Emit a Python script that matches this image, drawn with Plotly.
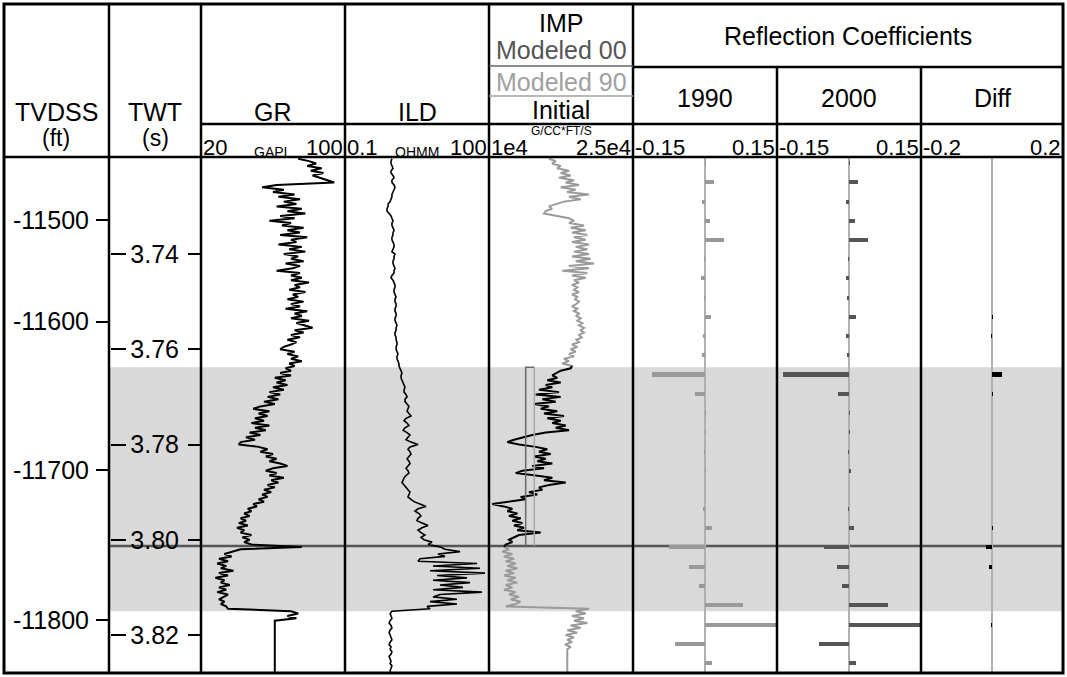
import plotly.graph_objects as go

W, H = 1067, 677

# ---------------- data ----------------
# two-way time sample grid (s), 0.5 ms sampling
twt = [round(3.7200 + 0.0005 * i, 4) for i in range(217)]

# GR (GAPI)
gr = [74, 80, 84, 79, 87, 81, 88, 82, 86, 90,
      94, 62, 54, 66, 60, 72, 63, 75, 66, 73,
      62, 76, 68, 78, 64, 72, 58, 70, 65, 77,
      68, 75, 64, 79, 70, 73, 63, 76, 69, 78,
      66, 74, 70, 77, 67, 75, 71, 62, 75, 70,
      76, 70, 80, 72, 75, 69, 78, 71, 74, 68,
      77, 70, 75, 67, 79, 72, 76, 70, 80, 73,
      78, 82, 72, 77, 70, 75, 68, 73, 70, 66,
      64, 72, 68, 74, 70, 76, 69, 72, 67, 70,
      64, 70, 61, 67, 62, 68, 60, 66, 58, 64,
      57, 63, 55, 61, 53, 49, 58, 52, 57, 50,
      55, 48, 58, 50, 56, 47, 53, 45, 50, 42,
      41, 52, 57, 53, 60, 56, 62, 58, 64, 68,
      60, 56, 62, 58, 66, 59, 63, 57, 61, 55,
      59, 54, 57, 52, 55, 49, 51, 46, 48, 44,
      47, 42, 45, 41, 46, 40, 44, 42, 48, 43,
      47, 44, 48, 76, 42, 38, 33, 37, 30, 35,
      29, 34, 31, 38, 30, 35, 28, 33, 31, 36,
      30, 34, 29, 35, 32, 30, 33, 31, 34, 35,
      70, 74, 68, 73, 61, 61, 61, 61, 61, 61,
      61, 61, 61, 61, 61, 61, 61, 61, 61, 61,
      61, 61, 61, 61, 61, 61, 61]

# ILD (OHMM)
ild = [0.95, 0.91, 0.91, 0.95, 1.00, 0.91, 0.91, 1.00, 1.05, 0.95,
       0.95, 1.05, 1.10, 1.05, 1.00, 0.95, 0.95, 0.91, 0.87, 0.79,
       0.79, 0.75, 0.75, 0.83, 0.91, 0.95, 1.00, 0.95, 0.95, 1.00,
       1.05, 1.00, 1.00, 0.95, 0.95, 1.00, 1.05, 1.05, 1.00, 0.95,
       1.10, 1.05, 1.05, 1.00, 1.00, 1.05, 1.10, 1.05, 1.05, 0.95,
       0.91, 1.00, 1.05, 1.10, 1.10, 1.05, 1.05, 1.10, 1.16, 1.10,
       1.10, 1.16, 1.16, 1.10, 1.10, 1.16, 1.16, 1.10, 1.10, 1.16,
       1.21, 1.16, 1.16, 1.10, 1.10, 1.16, 1.16, 1.21, 1.21, 1.16,
       1.16, 1.21, 1.27, 1.21, 1.21, 1.27, 1.33, 1.33, 1.40, 1.47,
       1.54, 1.47, 1.47, 1.54, 1.62, 1.70, 1.78, 1.70, 1.70, 1.87,
       1.96, 1.78, 1.78, 1.96, 2.15, 2.05, 1.96, 2.15, 2.37, 1.87,
       1.70, 1.96, 2.15, 1.78, 1.62, 1.96, 2.26, 2.05, 1.87, 2.37,
       3.32, 2.26, 2.05, 2.26, 2.37, 2.15, 1.96, 2.15, 2.26, 2.05,
       1.87, 2.05, 2.15, 1.87, 1.70, 1.62, 1.54, 1.70, 1.87, 2.05,
       2.26, 2.15, 2.05, 2.37, 2.74, 3.65, 4.87, 3.32, 2.87, 3.48,
       3.83, 3.32, 3.16, 4.02, 5.36, 4.02, 3.32, 3.83, 4.64, 3.83,
       4.42, 6.49, 5.36, 9.53, 12.1, 24.9, 8.66, 12.1, 3.65, 3.32,
       56.2, 6.81, 64.9, 5.90, 82.5, 8.25, 34.8, 6.81, 40.2, 9.53,
       28.7, 6.81, 71.5, 9.53, 6.81, 21.5, 5.90, 21.5, 5.11, 5.90,
       0.95, 0.87, 0.91, 0.95, 0.87, 0.83, 0.91, 0.95, 0.87, 0.83,
       0.87, 0.91, 0.95, 0.87, 0.83, 0.91, 0.87, 0.95, 0.91, 0.83,
       0.87, 0.91, 0.87, 0.95, 0.91, 0.87, 0.91]

# Impedance (G/CC*FT/S)
imp = [16250, 16948, 16563, 17469, 17083, 18334, 17469, 18511, 17292, 18854,
       17990, 19375, 17469, 19031, 18125, 20417, 18334, 19552, 17813, 16948,
       16250, 16563, 15906, 15729, 16948, 18334, 18854, 18334, 19896, 18511,
       20073, 18646, 20240, 18854, 20073, 18646, 20417, 19031, 20240, 18854,
       20417, 18646, 20594, 19031, 20938, 18334, 20417, 17636, 20240, 18646,
       20073, 18854, 19375, 18646, 19198, 18854, 19375, 18646, 19198, 18958,
       19375, 19094, 18646, 19198, 18854, 19375, 19094, 19552, 19198, 19719,
       19375, 19896, 19552, 19896, 19375, 19656, 19094, 19375, 18646, 19198,
       18511, 19031, 18334, 18854, 17813, 18334, 17636, 18646, 18511, 17469,
       16948, 16594, 17115, 16073, 17469, 15906, 16594, 15208, 17292, 14865,
       17469, 15552, 16948, 14688, 16250, 15386, 17115, 15729, 17813, 16073,
       17469, 16594, 17990, 16948, 18334, 15906, 14511, 13469, 12604, 11906,
       13125, 14865, 16073, 15208, 16427, 14688, 15906, 15031, 16594, 14511,
       15729, 13469, 12781, 14865, 16594, 15729, 17990, 16250, 15208, 15552,
       14167, 15031, 13302, 13823, 12083, 10344, 11563, 12427, 11906, 12948,
       12083, 13302, 12427, 13469, 12604, 13646, 12948, 15386, 13125, 12604,
       12083, 12427, 11740, 11563, 12083, 11386, 12427, 11563, 12604, 11740,
       12781, 11906, 12948, 11740, 12604, 11563, 12781, 11906, 12948, 11740,
       12427, 11563, 12781, 12083, 13125, 12260, 13302, 12781, 11740, 20417,
       19031, 20073, 18646, 19896, 18854, 20240, 18511, 19552, 18156, 19198,
       17990, 18854, 18156, 18646, 17917, 18511, 18156, 18156, 18156, 18156,
       18156, 18156, 18156, 18156, 18156, 18156, 18156]

# modeled (blocky) impedance within the target interval
model_twt = [3.7638, 3.8013]
model_00 = 13820
model_90 = 14720

# reflection coefficients (4 ms)
rc_twt = [3.7209, 3.7249, 3.7290, 3.7330, 3.7370, 3.7411, 3.7451, 3.7492, 3.7532,
          3.7572, 3.7613, 3.7653, 3.7694, 3.7734, 3.7774, 3.7815, 3.7855, 3.7895,
          3.7936, 3.7976, 3.8016, 3.8057, 3.8097, 3.8138, 3.8178, 3.8218, 3.8259]
rc_1990 = [0.002, 0.018, -0.006, 0.011, 0.040, -0.001, -0.009, -0.001, 0.0125,
           -0.005, -0.006, -0.110, -0.020, 0.001, 0.001, -0.001, 0.001, 0.0,
           -0.005, 0.014, -0.076, -0.033, -0.013, 0.079, 0.150, -0.062, 0.014]
rc_2000 = [0.002, 0.018, -0.006, 0.012, 0.040, -0.001, -0.007, -0.004, 0.015,
           -0.006, -0.004, -0.137, -0.022, 0.001, 0.001, -0.002, 0.003, 0.0,
           -0.001, 0.010, -0.053, -0.024, -0.015, 0.081, 0.150, -0.063, 0.015]
rc_diff = [0.0, 0.0, 0.0, 0.0, 0.0, 0.0, 0.0, 0.0, 0.001,
           -0.001, 0.0, 0.027, 0.002, 0.0, 0.0, 0.0, 0.0, 0.0,
           0.0, 0.002, -0.017, -0.0075, 0.0, 0.0, -0.001, 0.0, 0.0]

# axis ticks
twt_ticks = [3.74, 3.76, 3.78, 3.80, 3.82]
twt_labels = ["3.74", "3.76", "3.78", "3.80", "3.82"]
depth_labels = ["-11500", "-11600", "-11700", "-11800"]
depth_tick_twt = [3.73286, 3.75421, 3.78535, 3.81685]

# zone of interest and marker
zone_top, zone_base = 3.7638, 3.8150
marker_twt = 3.8013

# ---------------- geometry ----------------
FONT = "Liberation Sans, Arial, Helvetica, sans-serif"
def px(x):
    return x / W
def py(y):
    return 1 - y / H

Y_RANGE = [3.82798, 3.71963]
Y_DOM = [py(673), py(157)]
cols = {"gr": (201, 345), "ild": (345, 489), "imp": (489, 633),
        "r90": (633, 777), "r00": (777, 921), "dif": (921, 1063)}

fig = go.Figure()

# GR
fig.add_trace(go.Scatter(x=gr, y=twt, xaxis="x", yaxis="y", mode="lines",
                         line=dict(color="black", width=2), hoverinfo="skip"))
# ILD
fig.add_trace(go.Scatter(x=ild, y=twt, xaxis="x2", yaxis="y", mode="lines",
                         line=dict(color="black", width=1.6), hoverinfo="skip"))
# IMP: initial (black) inside zone, grey outside
imp_in = [v if (zone_top - 0.0005) <= t <= marker_twt + 0.0003 else None for t, v in zip(twt, imp)]
imp_out = [v if (t <= zone_top + 0.0003 or t >= marker_twt - 0.0002) else None for t, v in zip(twt, imp)]
fig.add_trace(go.Scatter(x=imp_out, y=twt, xaxis="x3", yaxis="y", mode="lines",
                         line=dict(color="#9a9a9a", width=2), hoverinfo="skip"))
fig.add_trace(go.Scatter(x=imp_in, y=twt, xaxis="x3", yaxis="y", mode="lines",
                         line=dict(color="black", width=2), hoverinfo="skip"))
fig.add_trace(go.Scatter(x=[model_90, model_00, model_00],
                         y=[model_twt[0], model_twt[0], model_twt[1]],
                         xaxis="x3", yaxis="y", mode="lines",
                         line=dict(color="#6a6a6a", width=1.5), hoverinfo="skip"))
fig.add_trace(go.Scatter(x=[model_90, model_90], y=model_twt,
                         xaxis="x3", yaxis="y", mode="lines",
                         line=dict(color="#a8a8a8", width=1.5), hoverinfo="skip"))

# reflection coefficients
BW = 0.00085
for vals, ax, col in [(rc_1990, "x4", "#999999"), (rc_2000, "x5", "#555555"),
                      (rc_diff, "x6", "#000000")]:
    fig.add_trace(go.Bar(x=vals, y=rc_twt, orientation="h", xaxis=ax, yaxis="y",
                         width=BW, marker=dict(color=col, line=dict(width=0)),
                         hoverinfo="skip"))

# invisible carriers so the extra tick axes (TWT left ticks, TVDSS labels) are drawn
for yax in ["y2", "y3"]:
    fig.add_trace(go.Scatter(x=[60], y=[3.77], xaxis="x", yaxis=yax, mode="markers",
                             marker=dict(opacity=0, size=1), hoverinfo="skip"))

# ---------------- axes ----------------
def hidden_x(dom, rng, typ="linear"):
    return dict(domain=[px(dom[0]), px(dom[1])], range=rng, type=typ, anchor="y",
                visible=False, fixedrange=True)

def rc_x(dom, rng):
    return dict(domain=[px(dom[0]), px(dom[1])], range=rng, anchor="y",
                showticklabels=False, ticks="", showgrid=False, showline=False,
                zeroline=True, zerolinecolor="#b0b0b0", zerolinewidth=1.5)

TICKF = 25
layout = dict(
    width=W, height=H, autosize=False,
    margin=dict(l=0, r=0, t=0, b=0),
    paper_bgcolor="white", plot_bgcolor="rgba(0,0,0,0)",
    showlegend=False, bargap=0,
    font=dict(family=FONT, color="black"),
    xaxis=hidden_x(cols["gr"], [20, 100]),
    xaxis2=hidden_x(cols["ild"], [-1, 2], "log"),
    xaxis3=hidden_x(cols["imp"], [10000, 25000]),
    xaxis4=rc_x(cols["r90"], [-0.15, 0.15]),
    xaxis5=rc_x(cols["r00"], [-0.15, 0.15]),
    xaxis6=rc_x(cols["dif"], [-0.2, 0.2]),
    yaxis=dict(domain=Y_DOM, range=Y_RANGE, anchor="free", position=px(201),
               side="left", ticks="outside", ticklen=13, tickwidth=2, tickcolor="black",
               tickvals=twt_ticks, ticktext=twt_labels, tickfont=dict(size=TICKF),
               showgrid=False, zeroline=False, showline=False, automargin=False,
               ticklabelstandoff=4),
    yaxis2=dict(overlaying="y", range=Y_RANGE, anchor="free", position=px(110),
                side="right", ticks="outside", ticklen=15, tickwidth=2, tickcolor="black",
                tickvals=twt_ticks, showticklabels=False, showgrid=False,
                zeroline=False, showline=False, automargin=False),
    yaxis3=dict(overlaying="y", range=Y_RANGE, anchor="free", position=px(109),
                side="left", ticks="outside", ticklen=13, tickwidth=2, tickcolor="black",
                tickvals=depth_tick_twt, ticktext=depth_labels, tickfont=dict(size=TICKF),
                showgrid=False, zeroline=False, showline=False, automargin=False,
                ticklabelstandoff=2),
)
fig.update_layout(**layout)

# ---------------- shapes ----------------
shapes = []
shapes.append(dict(type="rect", xref="paper", yref="y", x0=px(110), x1=px(1063),
                   y0=zone_top, y1=zone_base, fillcolor="#d9d9d9",
                   line=dict(width=0), layer="below"))
shapes.append(dict(type="line", xref="paper", yref="y", x0=px(110), x1=px(1063),
                   y0=marker_twt, y1=marker_twt, line=dict(color="#555555", width=2.5),
                   layer="below"))

def hline(y, x0, x1, color="black", width=2.5):
    shapes.append(dict(type="line", xref="paper", yref="paper", x0=px(x0), x1=px(x1),
                       y0=py(y), y1=py(y), line=dict(color=color, width=width), layer="above"))

def vline(x, y0, y1, color="black", width=2.5):
    shapes.append(dict(type="line", xref="paper", yref="paper", x0=px(x), x1=px(x),
                       y0=py(y0), y1=py(y1), line=dict(color=color, width=width), layer="above"))

for x in [109, 201, 345, 489, 633]:
    vline(x, 4, 673)
for x in [777, 921]:
    vline(x, 67, 673)
hline(157, 4, 1063)
hline(124, 201, 1063)
hline(67, 633, 1063)
hline(66, 489, 633, color="#666666", width=1.5)
hline(96, 489, 633, color="#a0a0a0", width=1.5)
shapes.append(dict(type="rect", xref="paper", yref="paper", x0=px(4), x1=px(1063),
                   y0=py(673), y1=py(4), line=dict(color="black", width=3),
                   layer="above"))
fig.update_layout(shapes=shapes)

# ---------------- header text ----------------
anns = []
def ann(text, x, y, size=25, color="black", xa="center", ya="middle"):
    anns.append(dict(text=text, x=px(x), y=py(y), xref="paper", yref="paper",
                     showarrow=False, xanchor=xa, yanchor=ya, borderpad=0,
                     font=dict(size=size, color=color, family=FONT)))

ann("TVDSS", 56, 112)
ann("(ft)", 56, 138, 23)
ann("TWT", 155, 112)
ann("(s)", 155, 138, 23)
ann("GR", 273, 112)
ann("ILD", 417, 112)
ann("IMP", 561, 23)
ann("Modeled 00", 561, 50, color="#555555")
ann("Modeled 90", 561, 82, color="#a0a0a0")
ann("Initial", 561, 110)
ann("Reflection Coefficients", 848, 36)
ann("1990", 705, 98)
ann("2000", 849, 98)
ann("Diff", 992, 98)

SC = 22
ann("20", 202, 148, SC, xa="left")
ann("GAPI", 270, 152, 14)
ann("100", 344, 148, SC, xa="right")
ann("0.1", 346, 148, SC, xa="left")
ann("OHMM", 417, 152, 14)
ann("100", 488, 148, SC, xa="right")
ann("G/CC*FT/S", 561, 131, 12)
ann("1e4", 490, 148, SC, xa="left")
ann("2.5e4", 632, 148, SC, xa="right")
ann("-0.15", 634, 148, SC, xa="left")
ann("0.15", 776, 148, SC, xa="right")
ann("-0.15", 778, 148, SC, xa="left")
ann("0.15", 920, 148, SC, xa="right")
ann("-0.2", 922, 148, SC, xa="left")
ann("0.2", 1062, 148, SC, xa="right")
fig.update_layout(annotations=anns)

fig.write_html("out.html",
               config={"displayModeBar": False},
               post_script="document.body.style.margin='0px';document.body.style.overflow='hidden';")
